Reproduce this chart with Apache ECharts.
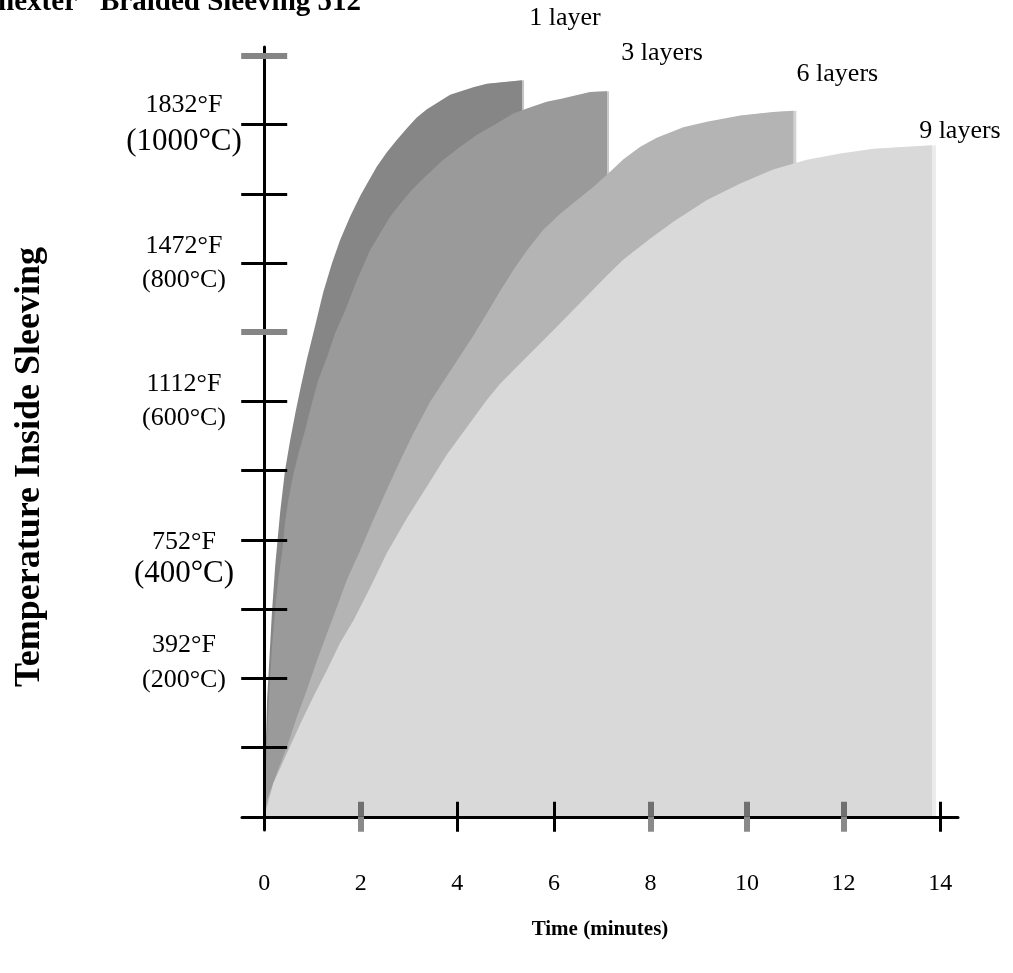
<!DOCTYPE html>
<html><head><meta charset="utf-8">
<script src="https://cdn.jsdelivr.net/npm/echarts@6/dist/echarts.min.js"></script>
<style>html,body{margin:0;padding:0;background:#fff}#c{width:1013px;height:973px}</style>
</head><body><div id="c"></div>
<script>
// ---------------- data ----------------
const seriesNames = ['1 layer', '3 layers', '6 layers', '9 layers'];

const time1 = [0, 0.02, 0.06, 0.11, 0.16, 0.23, 0.33, 0.43, 0.54, 0.65, 0.76, 0.88, 1.04, 1.22, 1.40, 1.57, 1.78, 1.99, 2.15, 2.33, 2.54, 2.75, 2.96, 3.16, 3.37, 3.85, 4.33, 4.61, 5.34];
const temp1 = [0, 72, 169, 232, 295, 365, 440, 500, 545, 585, 622, 660, 705, 757, 799, 833, 867, 897, 917, 939, 960, 978, 995, 1010, 1022, 1043, 1054, 1059, 1064];

const time3 = [0, 0.04, 0.09, 0.16, 0.24, 0.30, 0.37, 0.43, 0.50, 0.61, 0.71, 0.85, 0.99, 1.12, 1.30, 1.47, 1.68, 1.92, 2.19, 2.40, 2.61, 2.82, 3.09, 3.37, 3.71, 4.06, 4.40, 4.75, 5.16, 5.44, 5.85, 6.13, 6.75, 7.10];
const temp3 = [0, 80, 160, 245, 310, 348, 381, 424, 458, 497, 525, 559, 598, 631, 664, 699, 732, 775, 818, 843, 867, 886, 908, 927, 949, 968, 985, 999, 1016, 1023, 1033, 1037, 1047, 1048];

const time6 = [0, 0.06, 0.26, 0.47, 0.68, 0.88, 1.09, 1.30, 1.51, 1.71, 1.99, 2.26, 2.54, 2.82, 3.09, 3.44, 3.78, 4.06, 4.33, 4.61, 4.89, 5.16, 5.44, 5.78, 6.13, 6.48, 6.82, 7.17, 7.44, 7.79, 8.13, 8.68, 9.17, 9.86, 10.54, 10.96];
const temp6 = [0, 25, 63, 101, 145, 183, 225, 265, 304, 342, 385, 429, 473, 515, 554, 600, 636, 666, 695, 727, 760, 790, 818, 848, 871, 891, 910, 932, 950, 968, 981, 996, 1004, 1013, 1018, 1020];

const time9 = [0, 0.19, 0.47, 0.75, 1.02, 1.30, 1.57, 1.85, 2.20, 2.54, 2.96, 3.37, 3.78, 4.20, 4.61, 4.89, 5.72, 6.06, 6.41, 6.75, 7.10, 7.44, 7.99, 8.48, 9.17, 9.86, 10.54, 11.24, 11.93, 12.62, 13.31, 13.83];
const temp9 = [0, 49, 92, 135, 174, 212, 251, 284, 332, 381, 432, 477, 523, 563, 602, 626, 684, 708, 733, 757, 782, 805, 835, 860, 891, 915, 935, 949, 958, 965, 968, 970];

const xTickValues = [0, 2, 4, 6, 8, 10, 12, 14];
const xTickLabels = ['0', '2', '4', '6', '8', '10', '12', '14'];
const xBlackTicks = [4, 6, 14];
const xGrayTicks = [2, 8, 10, 12];

const yBlackTicks = [100, 200, 300, 400, 500, 600, 800, 900, 1000];
const yGrayTicks = [700, 1100];
const yLabelValues = [200, 400, 600, 800, 1000];
const yLabelF = ['392°F', '752°F', '1112°F', '1472°F', '1832°F'];
const yLabelC = ['(200°C)', '(400°C)', '(600°C)', '(800°C)', '(1000°C)'];

const titleLeft = 'nexter';
const titleRight = 'Braided Sleeving 512';
const xName = 'Time (minutes)';
const yName = 'Temperature Inside Sleeving';

// ---------------- style ----------------
const FONT = "'Liberation Serif', 'Times New Roman', Times, serif";
const X_MIN = -0.46, X_MAX = 14.37, Y_MIN = -19, Y_MAX = 1112;
const seriesColors = ['#868686', '#9a9a9a', '#b4b4b4', '#d9d9d9'];
const edgeColors = ['#c4c4c4', '#c8c8c8', '#d2d2d2', '#ebebeb'];
const edgeWidths = [2, 2, 3, 4];
const labelOffsets = [[43, -62], [55, -38], [44, -37], [28, -14]];
const yLabelStyles = {200: ['f2', 'cUp'], 400: ['fDown', 'cb'], 600: ['f', 'c'], 800: ['f', 'c'], 1000: ['f', 'cb']};

const seriesData = [[time1, temp1], [time3, temp3], [time6, temp6], [time9, temp9]]
  .map(([ts, vs]) => ts.map((t, i) => [t, vs[i]]));

function xAx(ticks, inside, color, width, extra) {
  return Object.assign({
    type: 'value', min: X_MIN, max: X_MAX, position: 'bottom', z: 10,
    axisLine: {show: false, onZero: true, onZeroAxisIndex: 0},
    axisTick: {show: true, customValues: ticks, inside: inside, length: 15, lineStyle: {color: color, width: width, cap: 'butt'}},
    axisLabel: {show: false}, splitLine: {show: false}
  }, extra || {});
}
function yAx(ticks, inside, color, width, extra) {
  return Object.assign({
    type: 'value', min: Y_MIN, max: Y_MAX, position: 'left', z: 10,
    axisLine: {show: false, onZero: true, onZeroAxisIndex: 0},
    axisTick: {show: true, customValues: ticks, inside: inside, length: 23, lineStyle: {color: color, width: width, cap: 'butt'}},
    axisLabel: {show: false}, splitLine: {show: false}
  }, extra || {});
}

const xMain = xAx(xBlackTicks, false, '#000', 3, {
  axisLine: {show: true, onZero: true, onZeroAxisIndex: 0, lineStyle: {color: '#000', width: 3}},
  axisLabel: {show: true, customValues: xTickValues, margin: 42, color: '#000', fontSize: 24, fontFamily: FONT,
    formatter: v => xTickLabels[xTickValues.indexOf(v)]},
  name: xName, nameLocation: 'middle', nameGap: 89,
  nameTextStyle: {color: '#000', fontSize: 21, fontWeight: 'bold', fontFamily: FONT}
});
const yMain = yAx(yBlackTicks, false, '#000', 3, {
  axisLine: {show: true, onZero: true, onZeroAxisIndex: 0, lineStyle: {color: '#000', width: 3}},
  axisLabel: {show: true, customValues: yLabelValues, margin: 58, align: 'center', color: '#000', fontFamily: FONT,
    formatter: v => {
      const i = yLabelValues.indexOf(v);
      const s = yLabelStyles[v];
      return '{' + s[0] + '|' + yLabelF[i] + '}\n{' + s[1] + '|' + yLabelC[i] + '}';
    },
    rich: {
      f: {fontSize: 26, lineHeight: 34, fontFamily: FONT, color: '#000'},
      f2: {fontSize: 26, lineHeight: 44, fontFamily: FONT, color: '#000'},
      c: {fontSize: 26, lineHeight: 34, fontFamily: FONT, color: '#000'},
      cb: {fontSize: 31, lineHeight: 38, fontFamily: FONT, color: '#000'},
      fDown: {fontSize: 26, padding: [42, 0, 0, 0], fontFamily: FONT, color: '#000'},
      cUp: {fontSize: 26, padding: [0, 0, 40, 0], fontFamily: FONT, color: '#000'}
    }
  },
  name: yName, nameLocation: 'middle', nameRotate: 90, nameGap: 194,
  nameTextStyle: {color: '#000', fontSize: 36, fontWeight: 'bold', fontFamily: FONT, padding: [0, 57, 0, 0]}
});

const option = {
  animation: false,
  backgroundColor: '#fff',
  grid: {left: 242, right: 55, top: 47, bottom: 143, containLabel: false, outerBoundsMode: 'none'},
  xAxis: [
    xMain,
    xAx(xBlackTicks, true, '#000', 3),
    xAx(xGrayTicks, false, '#8a8a8a', 6),
    xAx(xGrayTicks, true, '#707070', 6)
  ],
  yAxis: [
    yMain,
    yAx(yBlackTicks, true, '#000', 3),
    yAx(yGrayTicks, false, '#858585', 6),
    yAx(yGrayTicks, true, '#858585', 6)
  ],
  graphic: [
    {type: 'text', x: 77, y: 3, silent: true,
      style: {text: titleLeft, align: 'right', verticalAlign: 'middle', font: 'bold 29px ' + FONT, fill: '#000'}},
    {type: 'text', x: 100, y: 3, silent: true,
      style: {text: titleRight, align: 'left', verticalAlign: 'middle', font: 'bold 29px ' + FONT, fill: '#000'}}
  ],
  series: seriesData.map((d, i) => ({
    type: 'line', name: seriesNames[i], data: d, xAxisIndex: 0, yAxisIndex: 0,
    symbol: 'none', showSymbol: false, silent: true, smooth: false,
    lineStyle: {width: 0},
    areaStyle: {color: seriesColors[i], opacity: 1,
      shadowColor: edgeColors[i], shadowBlur: 0, shadowOffsetX: edgeWidths[i], shadowOffsetY: 0},
    markPoint: {
      symbol: 'circle', symbolSize: 1, silent: true,
      itemStyle: {color: 'rgba(0,0,0,0)'},
      data: [{coord: d[d.length - 1]}],
      label: {show: true, position: 'inside', formatter: seriesNames[i], offset: labelOffsets[i],
        color: '#000', fontSize: 26, fontFamily: FONT}
    }
  }))
};

const chart = echarts.init(document.getElementById('c'), null, {renderer: 'canvas'});
chart.setOption(option);
</script>
</body></html>
